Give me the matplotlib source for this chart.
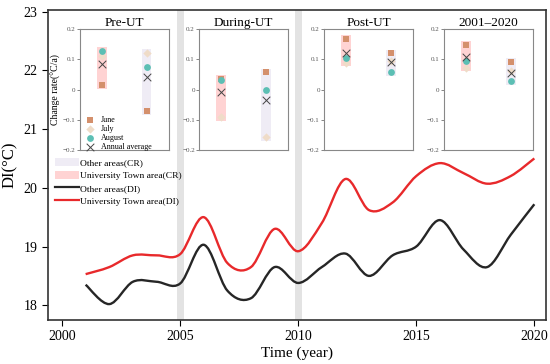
import numpy as np
import matplotlib.pyplot as plt
from matplotlib.path import Path
from matplotlib.patches import PathPatch, Patch
from matplotlib.lines import Line2D

plt.rcParams['font.family'] = ['Liberation Serif', 'DejaVu Serif']
plt.rcParams['axes.unicode_minus'] = True

# DI time series (annual)
years = np.arange(2001, 2021)
di_other = [18.35, 18.02, 18.40, 18.40, 18.37, 19.03, 18.25, 18.12, 18.65, 18.38,
            18.65, 18.88, 18.50, 18.85, 19.00, 19.45, 18.95, 18.65, 19.20, 19.72]
di_ut = [18.53, 18.65, 18.85, 18.85, 18.87, 19.50, 18.72, 18.65, 19.30, 18.92,
         19.40, 20.15, 19.62, 19.75, 20.20, 20.42, 20.25, 20.07, 20.20, 20.50]

# change rates (°C/a): [University Town, Other areas]
periods = ['Pre-UT', 'During-UT', 'Post-UT', '2001–2020']
june = [[0.015, -0.071], [0.036, 0.057], [0.168, 0.120], [0.148, 0.092]]
july = [[0.110, 0.121], [-0.091, -0.158], [0.089, 0.095], [0.072, 0.060]]
august = [[0.128, 0.075], [0.031, -0.002], [0.105, 0.058], [0.094, 0.028]]
annual = [[0.086, 0.041], [-0.008, -0.036], [0.122, 0.091], [0.109, 0.055]]

c_june = '#D4906C'
c_july = '#EFDCC8'
c_aug = '#5CBFB4'
c_pink = '#FFD3D3'
c_lav = '#EFECF5'


def smooth_path(x, y):
    # Catmull-Rom curve through the points, drawn as cubic Bezier segments
    x = np.asarray(x, float)
    y = np.asarray(y, float)
    pts = np.column_stack([x, y])
    p = np.vstack([pts[0], pts, pts[-1]])
    verts = [pts[0]]
    codes = [Path.MOVETO]
    for i in range(1, len(p) - 2):
        c1 = p[i] + (p[i + 1] - p[i - 1]) / 6
        c2 = p[i + 1] - (p[i + 2] - p[i]) / 6
        verts += [c1, c2, p[i + 1]]
        codes += [Path.CURVE4] * 3
    return Path(verts, codes)


fig = plt.figure(figsize=(5.5, 3.64), dpi=100)
ax = fig.add_axes([0.087, 0.121, 0.906, 0.852])

for yr in [2005, 2010]:
    ax.axvspan(yr - 0.15, yr + 0.15, color='#E3E3E3', lw=0, zorder=0)

ax.add_patch(PathPatch(smooth_path(years, di_other), fill=False, color='#262626', lw=1.7, zorder=3))
ax.add_patch(PathPatch(smooth_path(years, di_ut), fill=False, color='#E8292B', lw=1.7, zorder=3))

ax.set_xlim(1999.4, 2020.5)
ax.set_ylim(17.75, 23.03)
ax.set_xticks([2000, 2005, 2010, 2015, 2020])
ax.set_yticks([18, 19, 20, 21, 22, 23])
ax.tick_params(labelsize=10, direction='out', length=4)
ax.set_xlabel('Time (year)', fontsize=11, labelpad=2)
ax.set_ylabel('DI(°C)', fontsize=12, labelpad=4)
for s in ax.spines.values():
    s.set_linewidth(1.2)
    s.set_color('#333333')

handles = [Patch(facecolor=c_lav, edgecolor='none'),
           Patch(facecolor=c_pink, edgecolor='none'),
           Line2D([], [], color='#262626', lw=1.6),
           Line2D([], [], color='#E8292B', lw=1.6)]
labels = ['Other areas(CR)', 'University Town area(CR)', 'Other areas(DI)', 'University Town area(DI)']
ax.legend(handles, labels, loc='upper left', bbox_to_anchor=(0.003, 0.54), frameon=False,
          fontsize=6.8, handlelength=2.5, handleheight=0.9, handletextpad=0.1, labelspacing=0.38,
          borderaxespad=0.2)

inset_x = [0.145, 0.362, 0.589, 0.807]
for k in range(4):
    ia = fig.add_axes([inset_x[k], 0.588, 0.162, 0.332])
    for j, col in enumerate([c_pink, c_lav]):
        vals = [june[k][j], july[k][j], august[k][j], annual[k][j]]
        lo, hi = min(vals) - 0.012, max(vals) + 0.012
        ia.bar(j + 1, hi - lo, bottom=lo, width=0.22, color=col, lw=0, zorder=1)
    xs = [1, 2]
    ia.scatter(xs, june[k], marker='s', s=22, color=c_june, lw=0, zorder=3, label='June')
    ia.scatter(xs, july[k], marker='D', s=18, color=c_july, lw=0, zorder=3, label='July')
    ia.scatter(xs, august[k], marker='o', s=24, color=c_aug, lw=0, zorder=4, label='August')
    ia.scatter(xs, annual[k], marker='x', s=30, color='#444444', lw=0.7, zorder=5, label='Annual average')
    ia.set_xlim(0.5, 2.5)
    ia.set_ylim(-0.2, 0.2)
    ia.set_xticks([])
    ia.set_yticks([0.2, 0.1, 0, -0.1, -0.2])
    ia.set_yticklabels(['0.2', '0.1', '0', '\u22120.1', '\u22120.2'])
    ia.tick_params(axis='y', labelsize=5, length=2, width=0.5, pad=1, colors='#555555')
    ia.set_title(periods[k], fontsize=9.5, pad=2)
    for s in ia.spines.values():
        s.set_color('#888888')
        s.set_linewidth(0.8)
    if k == 0:
        ia.set_ylabel('Change rate(°C/a)', fontsize=7, labelpad=1)
        ia.legend(loc='lower left', bbox_to_anchor=(-0.02, -0.04), frameon=False, fontsize=5.8,
                  handletextpad=0.3, labelspacing=0.1, borderaxespad=0.1, scatterpoints=1)

fig.savefig('out.png', dpi=100)
